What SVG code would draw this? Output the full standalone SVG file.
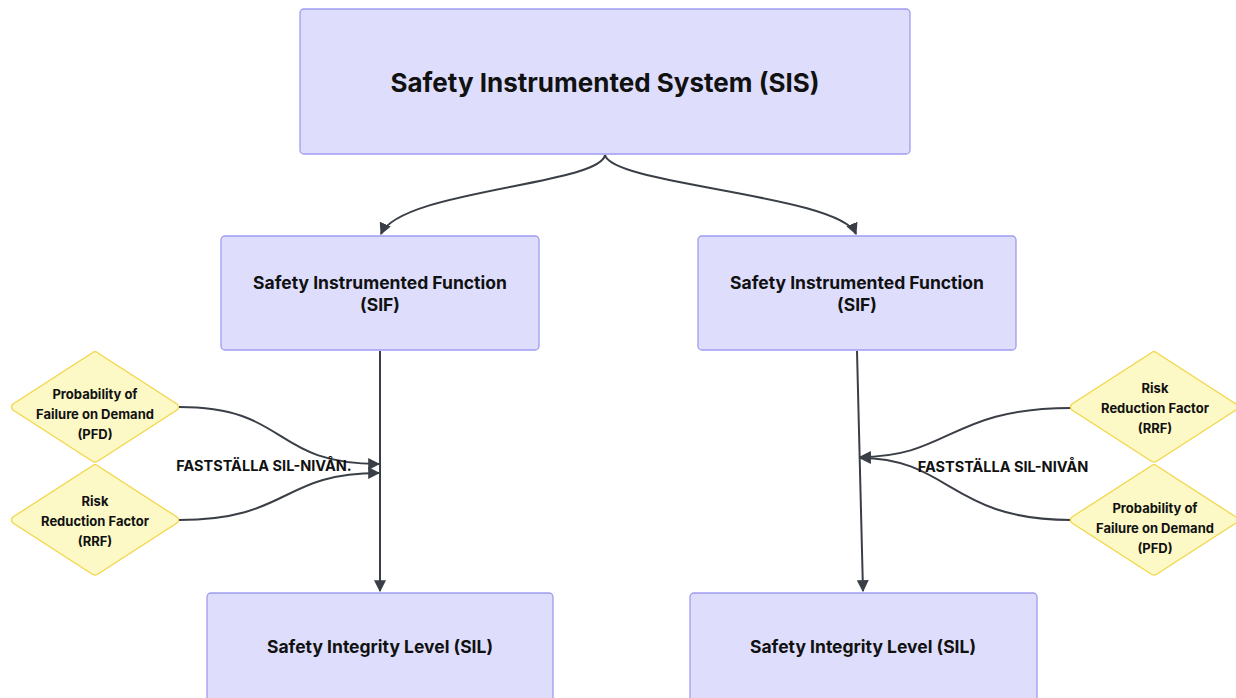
<svg xmlns="http://www.w3.org/2000/svg" width="1236" height="698" viewBox="0 0 1236 698">
<style>
.box{fill:#DEDEFC;stroke:#A09CF0;stroke-width:1.3}
.dia{fill:#FCF9C6;stroke:#F2D64B;stroke-width:1.3}
.t{font-family:Inter,"Liberation Sans",sans-serif;font-weight:700;fill:#111;text-anchor:middle}
.e{fill:none;stroke:#3A3F47;stroke-width:2}
.lbl{font-family:Inter,"Liberation Sans",sans-serif;font-weight:700;font-size:14.5px;fill:#111;text-anchor:middle}
</style>
<defs>
<marker id="ah" viewBox="0 0 10 10" refX="9" refY="5" markerWidth="12" markerHeight="12" markerUnits="userSpaceOnUse" orient="auto">
<path d="M0,0 L10,5 L0,10 z" fill="#3A3F47"/>
</marker>
</defs>
<rect width="1236" height="698" fill="#fff"/>
<g id="connectors">
<path class="e" marker-end="url(#ah)" d="M605,155 C600,185 400,190 381,234"/>
<path class="e" marker-end="url(#ah)" d="M605,155 C612,185 840,195 856,234"/>
<path class="e" marker-end="url(#ah)" d="M380,351 L380,591"/>
<path class="e" marker-end="url(#ah)" d="M857,351 L863,591"/>
<path class="e" marker-end="url(#ah)" d="M179,407 C290,407 270,464 379,464"/>
<path class="e" marker-end="url(#ah)" d="M179,520 C290,520 280,473 379,473"/>
<path class="e" marker-end="url(#ah)" d="M1071,408 C950,408 950,457 860,457"/>
<path class="e" marker-end="url(#ah)" d="M1071,520 C950,520 950,458 860,458"/>
<text class="lbl" x="264" y="471">FASTSTÄLLA SIL-NIVÅN.</text>
<text class="lbl" x="1003" y="472">FASTSTÄLLA SIL-NIVÅN</text>
</g>
<g id="sis">
<rect class="box" x="300" y="9" width="610" height="145" rx="4"/>
<text class="t" x="605" y="92" font-size="26">Safety Instrumented System (SIS)</text>
</g>
<g id="sif1">
<rect class="box" x="221" y="236" width="318" height="114" rx="4"/>
<text class="t" x="380" y="289" font-size="17.5">Safety Instrumented Function</text>
<text class="t" x="380" y="311" font-size="17.5">(SIF)</text>
</g>
<g id="sif2">
<rect class="box" x="698" y="236" width="318" height="114" rx="4"/>
<text class="t" x="857" y="289" font-size="17.5">Safety Instrumented Function</text>
<text class="t" x="857" y="311" font-size="17.5">(SIF)</text>
</g>
<g id="sil1">
<rect class="box" x="207" y="593" width="346" height="120" rx="4"/>
<text class="t" x="380" y="653" font-size="17.5">Safety Integrity Level (SIL)</text>
</g>
<g id="sil2">
<rect class="box" x="690" y="593" width="347" height="120" rx="4"/>
<text class="t" x="863" y="653" font-size="17.5">Safety Integrity Level (SIL)</text>
</g>
<g id="pfd1">
<path class="dia" d="M95,352 Q96,351 98,353 L177,404 Q180,407 177,410 L98,461 Q95,463 92,461 L13,410 Q10,407 13,404 L92,353 Q94,351 95,352 z"/>
<text class="t" x="95" y="399" font-size="13">Probability of</text>
<text class="t" x="95" y="419" font-size="13">Failure on Demand</text>
<text class="t" x="95" y="439" font-size="13">(PFD)</text>
</g>
<g id="rrf1">
<path class="dia" d="M95,465 Q96,464 98,466 L177,517 Q180,520 177,523 L98,574 Q95,576 92,574 L13,523 Q10,520 13,517 L92,466 Q94,464 95,465 z"/>
<text class="t" x="95" y="506" font-size="13">Risk</text>
<text class="t" x="95" y="526" font-size="13">Reduction Factor</text>
<text class="t" x="95" y="546" font-size="13">(RRF)</text>
</g>
<g id="rrf2">
<path class="dia" d="M1154,352 Q1155,351 1157,353 L1236,404 Q1239,407 1236,410 L1157,461 Q1154,463 1151,461 L1072,410 Q1069,407 1072,404 L1151,353 Q1153,351 1154,352 z"/>
<text class="t" x="1155" y="393" font-size="13">Risk</text>
<text class="t" x="1155" y="413" font-size="13">Reduction Factor</text>
<text class="t" x="1155" y="433" font-size="13">(RRF)</text>
</g>
<g id="pfd2">
<path class="dia" d="M1154,465 Q1155,464 1157,466 L1236,517 Q1239,520 1236,523 L1157,574 Q1154,576 1151,574 L1072,523 Q1069,520 1072,517 L1151,466 Q1153,464 1154,465 z"/>
<text class="t" x="1155" y="513" font-size="13">Probability of</text>
<text class="t" x="1155" y="533" font-size="13">Failure on Demand</text>
<text class="t" x="1155" y="553" font-size="13">(PFD)</text>
</g>
</svg>
